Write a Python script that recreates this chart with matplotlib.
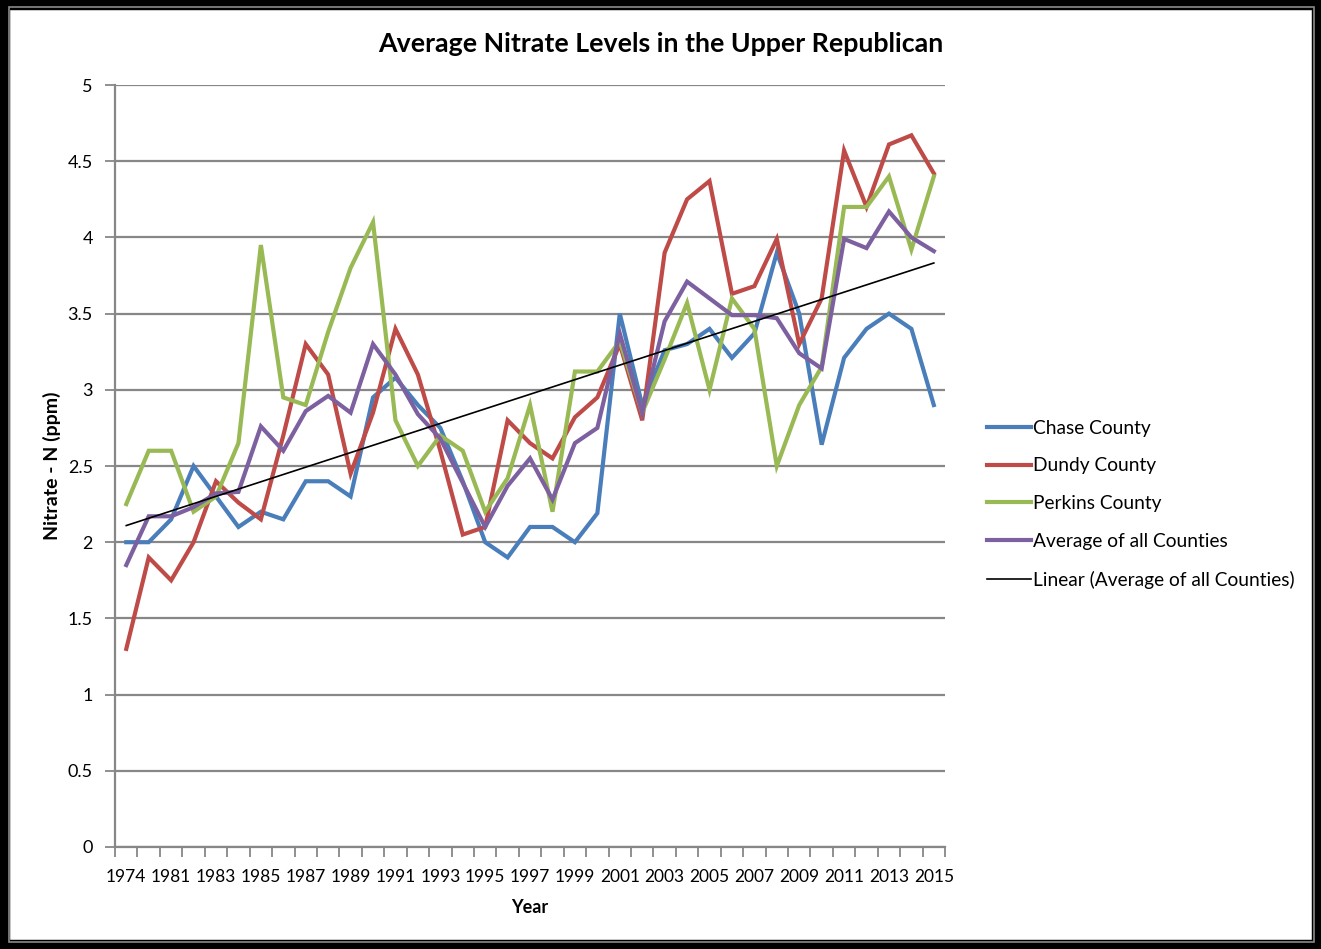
import numpy as np
import matplotlib.pyplot as plt
from matplotlib.patches import Rectangle

plt.rcParams['font.family'] = ['Lato', 'DejaVu Sans']

# sampling years (second sample year not printed on the axis)
years = ['1974', '1979', '1981', '1982', '1983', '1984', '1985', '1986', '1987',
         '1988', '1989', '1990', '1991', '1992', '1993', '1994', '1995', '1996',
         '1997', '1998', '1999', '2000', '2001', '2002', '2003', '2004', '2005',
         '2006', '2007', '2008', '2009', '2010', '2011', '2012', '2013', '2014',
         '2015']

chase = [2.0, 2.0, 2.15, 2.5, 2.3, 2.1, 2.2, 2.15, 2.4, 2.4, 2.3, 2.95, 3.08,
         2.9, 2.75, 2.4, 2.0, 1.9, 2.1, 2.1, 2.0, 2.19, 3.5, 2.9, 3.26, 3.3,
         3.4, 3.21, 3.37, 3.9, 3.5, 2.64, 3.21, 3.4, 3.5, 3.4, 2.9]
dundy = [1.3, 1.9, 1.75, 2.0, 2.4, 2.26, 2.15, 2.7, 3.3, 3.1, 2.45, 2.85, 3.4,
         3.1, 2.6, 2.05, 2.1, 2.8, 2.65, 2.55, 2.82, 2.95, 3.3, 2.8, 3.9, 4.25,
         4.37, 3.63, 3.68, 3.99, 3.3, 3.6, 4.57, 4.2, 4.61, 4.67, 4.42]
perkins = [2.25, 2.6, 2.6, 2.2, 2.3, 2.65, 3.95, 2.95, 2.9, 3.38, 3.8, 4.1, 2.8,
           2.5, 2.7, 2.6, 2.2, 2.42, 2.9, 2.2, 3.12, 3.12, 3.32, 2.85, 3.2, 3.57,
           3.0, 3.6, 3.4, 2.5, 2.9, 3.15, 4.2, 4.2, 4.4, 3.92, 4.4]
average = [1.85, 2.17, 2.17, 2.23, 2.32, 2.33, 2.76, 2.6, 2.86, 2.96, 2.85, 3.3,
           3.1, 2.84, 2.68, 2.39, 2.1, 2.37, 2.55, 2.28, 2.65, 2.75, 3.37, 2.85,
           3.45, 3.71, 3.6, 3.49, 3.49, 3.47, 3.24, 3.14, 3.99, 3.93, 4.17, 4.0,
           3.91]

x = np.arange(len(years))

fig = plt.figure(figsize=(13.21, 9.49), dpi=100)
ax = fig.add_axes([0.0871, 0.1075, 0.6283, 0.8029])

ax.plot(x, chase, color='#4A7EBB', lw=3, label='Chase County', solid_joinstyle='miter')
ax.plot(x, dundy, color='#BE4B48', lw=3, label='Dundy County', solid_joinstyle='miter')
ax.plot(x, perkins, color='#98B954', lw=3, label='Perkins County', solid_joinstyle='miter')
ax.plot(x, average, color='#7D60A0', lw=3, label='Average of all Counties', solid_joinstyle='miter')

# linear trend of the county average
slope, icpt = np.polyfit(x, average, 1)
ax.plot(x, slope * x + icpt, color='black', lw=1.2, label='Linear (Average of all Counties)')

ax.set_xlim(-0.5, len(years) - 0.5)
ax.set_ylim(0, 5)
ax.set_yticks(np.arange(0, 5.01, 0.5))
ax.set_yticklabels(['0', '0.5', '1', '1.5', '2', '2.5', '3', '3.5', '4', '4.5', '5'])
ax.yaxis.grid(True, color='#878787', lw=1.6)
ax.set_axisbelow(True)

ax.set_xticks(x[::2])
ax.set_xticklabels(years[::2])
ax.set_xticks(np.arange(-0.5, len(years), 1), minor=True)
ax.tick_params(axis='x', which='major', length=0, pad=16, labelsize=12.5, colors='black')
ax.tick_params(axis='x', which='minor', length=7, width=1.3, color='#878787')
ax.tick_params(axis='y', length=7, width=1.3, color='#878787', labelsize=13, pad=9)

for side in ['top', 'right']:
    ax.spines[side].set_visible(False)
for side in ['left', 'bottom']:
    ax.spines[side].set_color('#878787')
    ax.spines[side].set_linewidth(1.6)

ax.set_xlabel('Year', fontsize=13, fontweight='bold', labelpad=10)
ax.set_ylabel('Nitrate - N (ppm)', fontsize=14, fontweight='bold', labelpad=5)
fig.text(0.5, 0.954, 'Average Nitrate Levels in the Upper Republican',
         ha='center', va='center', fontsize=19.3, fontweight='bold')

leg = ax.legend(loc='center left', bbox_to_anchor=(1.03, 0.45), frameon=False,
                fontsize=13.8, handlelength=2.3, handletextpad=0.1, labelspacing=1.08)

# black frame round the chart
fig.patches.append(Rectangle((0, 0), 1, 1, transform=fig.transFigure, fill=False,
                             edgecolor='black', lw=14, zorder=10))
fig.patches.append(Rectangle((9 / 1321, 7 / 949), 1 - 16 / 1321, 1 - 14 / 949,
                             transform=fig.transFigure, fill=False,
                             edgecolor='#8a8a8a', lw=1.2, zorder=10))

fig.savefig('out.png', dpi=100)
